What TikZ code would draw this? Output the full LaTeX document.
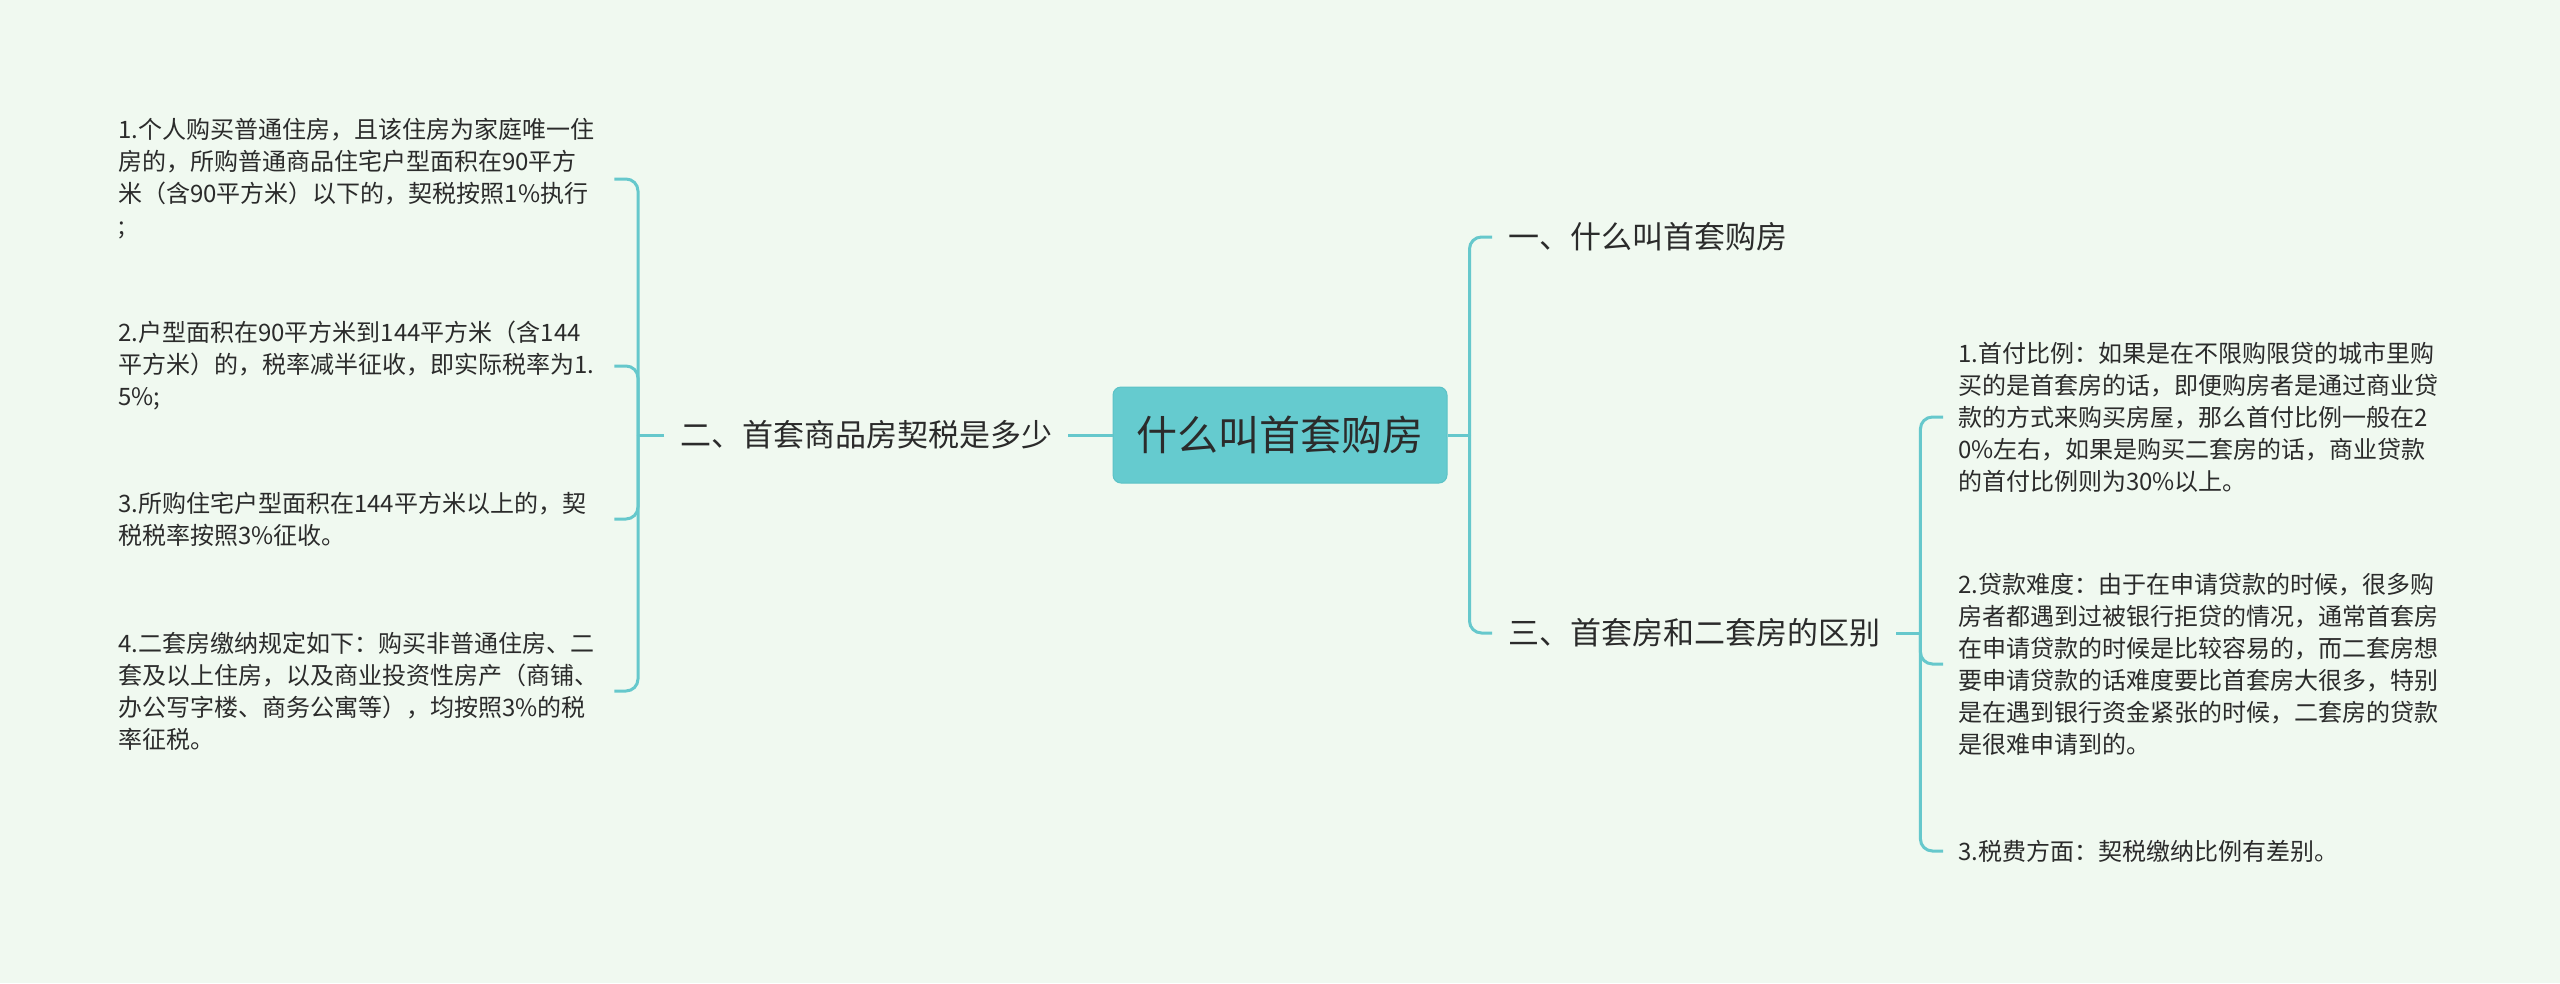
\documentclass[tikz,border=0pt]{standalone}
\usepackage{fontspec}
\newfontfamily\cjk{Noto Sans CJK SC}
\definecolor{bgc}{HTML}{F0F9F0}
\definecolor{lnc}{HTML}{66C8CC}
\definecolor{rootc}{HTML}{65CBCF}
\definecolor{rootb}{HTML}{5CC2C6}
\definecolor{txt}{HTML}{2B2B2B}
\tikzset{
  conn/.style={draw=lnc, line width=3pt, rounded corners=12pt},
  leaf/.style={anchor=west, align=left, text width=490pt, inner xsep=6pt, inner ysep=0pt,
    font=\cjk\fontsize{24pt}{32pt}\selectfont, text=txt},
  rleaf/.style={leaf, inner xsep=15pt},
  branch/.style={anchor=west, inner xsep=16pt, inner ysep=0pt,
    font=\cjk\fontsize{31pt}{36pt}\selectfont, text=txt},
  rootbox/.style={fill=rootc, draw=rootb, line width=1pt, rounded corners=8pt,
    minimum width=334pt, minimum height=96pt, inner sep=0pt,
    font=\cjk\fontsize{41pt}{48pt}\selectfont, text=txt}
}
\begin{document}
\begin{tikzpicture}[x=1pt,y=-1pt]
\fill[bgc] (0,0) rectangle (2560,983);
\useasboundingbox (0,0) rectangle (2560,983);

\node[rootbox] (root) at (1280,435) {什么叫首套购房};

\node[branch] (b2) at (664,435) {二、首套商品房契税是多少};
\node[branch] (b1) at (1492,237) {一、什么叫首套购房};
\node[branch] (b3) at (1492,633) {三、首套房和二套房的区别};

\node[leaf] (l1) at (112,179) {1.个人购买普通住房，且该住房为家庭唯一住\\房的，所购普通商品住宅户型面积在90平方\\米（含90平方米）以下的，契税按照1\%执行\\;};
\node[leaf] (l2) at (112,366) {2.户型面积在90平方米到144平方米（含144\\平方米）的，税率减半征收，即实际税率为1.\\5\%;};
\node[leaf] (l3) at (112,519) {3.所购住宅户型面积在144平方米以上的，契\\税税率按照3\%征收。};
\node[leaf] (l4) at (112,691) {4.二套房缴纳规定如下：购买非普通住房、二\\套及以上住房，以及商业投资性房产（商铺、\\办公写字楼、商务公寓等），均按照3\%的税\\率征税。};

\node[rleaf] (r1) at (1943,417) {1.首付比例：如果是在不限购限贷的城市里购\\买的是首套房的话，即便购房者是通过商业贷\\款的方式来购买房屋，那么首付比例一般在2\\0\%左右，如果是购买二套房的话，商业贷款\\的首付比例则为30\%以上。};
\node[rleaf] (r2) at (1943,664) {2.贷款难度：由于在申请贷款的时候，很多购\\房者都遇到过被银行拒贷的情况，通常首套房\\在申请贷款的时候是比较容易的，而二套房想\\要申请贷款的话难度要比首套房大很多，特别\\是在遇到银行资金紧张的时候，二套房的贷款\\是很难申请到的。};
\node[rleaf] (r3) at (1943,851) {3.税费方面：契税缴纳比例有差别。};

% root to left branch
\draw[conn] (root.west) -- (b2.east);
\draw[conn] (b2.west) -- ++(-26,0) coordinate (jl);
\foreach \n in {l1,l2,l3,l4} \draw[conn] (jl) |- (\n.east);

% root to right branches
\draw[conn] (root.east) -- ++(22,0) coordinate (jr);
\draw[conn] (jr) |- (b1.west);
\draw[conn] (jr) |- (b3.west);

% right branch to leaves
\draw[conn] (b3.east) -- ++(24,0) coordinate (jr2);
\foreach \n in {r1,r2,r3} \draw[conn] (jr2) |- (\n.west);
\end{tikzpicture}
\end{document}
